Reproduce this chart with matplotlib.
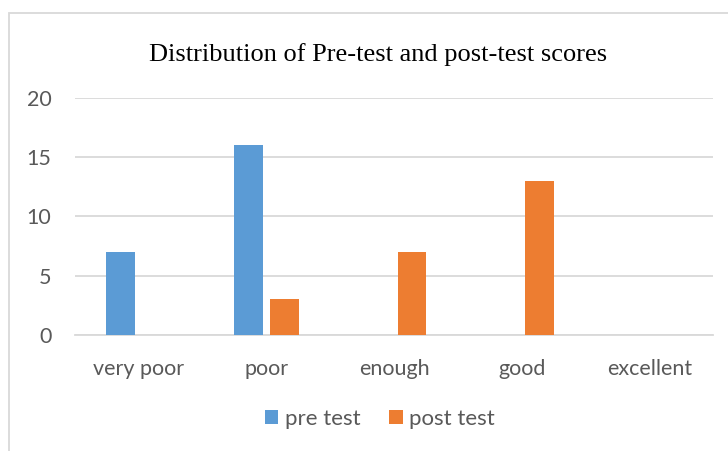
import matplotlib.pyplot as plt
import numpy as np
from matplotlib.patches import Rectangle

categories = ['very poor', 'poor', 'enough', 'good', 'excellent']
pre_test = [7, 16, 0, 0, 0]
post_test = [0, 3, 7, 13, 0]
yticks = [0, 5, 10, 15, 20]

blue, orange = '#5B9BD5', '#ED7D31'
grid_c, text_c = '#D9D9D9', '#595959'

fig = plt.figure(figsize=(7.28, 4.51), dpi=100)
ax = fig.add_axes([75/728, 0.2572, 638/728, 0.5262])

# chart border (cut off at right and bottom like the reference)
fig.patches.append(Rectangle((9/728, -0.1), 1.2, (451-13)/451 + 0.1, transform=fig.transFigure,
                             fill=False, edgecolor=grid_c, linewidth=1.3))

x = np.arange(len(categories))
w = 0.227
off = 0.141
ax.bar(x - off, pre_test, w, color=blue, label='pre test', zorder=3)
ax.bar(x + off, post_test, w, color=orange, label='post test', zorder=3)

ax.set_xlim(-0.5, len(categories) - 0.5)
ax.set_ylim(0, 20)
ax.set_yticks(yticks)
ax.yaxis.grid(True, color=grid_c, linewidth=1.3, zorder=0)
for s in ['top', 'right', 'left']:
    ax.spines[s].set_visible(False)
ax.spines['bottom'].set_color(grid_c)
ax.spines['bottom'].set_linewidth(1.3)
ax.tick_params(axis='both', length=0, labelsize=15.5, colors=text_c)
ax.tick_params(axis='y', pad=17)
ax.tick_params(axis='x', pad=17)
ax.set_xticks(x)
ax.set_xticklabels(categories)
for lab in ax.get_xticklabels() + ax.get_yticklabels():
    lab.set_family('Lato')

fig.text(378/728, 1 - 55/451, 'Distribution of Pre-test and post-test scores',
         ha='center', va='center', fontsize=19, family='Liberation Serif', color='black')

fig.legend(loc='center', bbox_to_anchor=(380/728, 1 - 419/451), ncol=2, frameon=False,
           prop={'family': 'Lato', 'size': 16}, labelcolor=text_c,
           handlelength=0.6, handleheight=0.6, handletextpad=0.3, columnspacing=1.3)

plt.savefig('out.png', dpi=100)
